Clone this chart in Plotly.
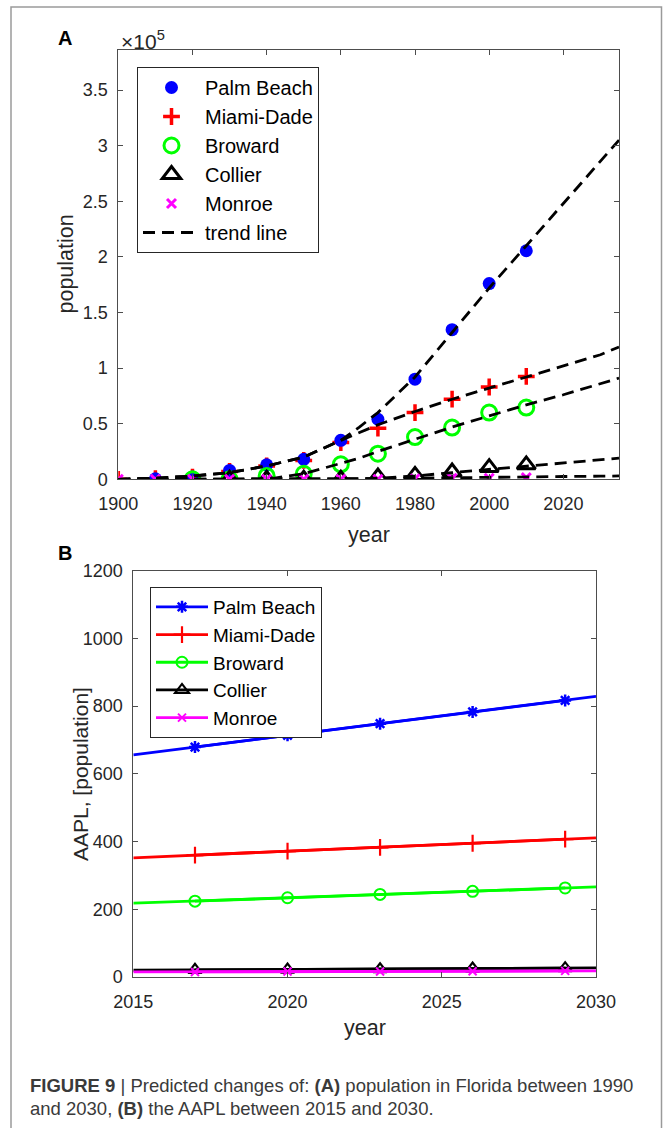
import plotly.graph_objects as go

W, H = 664, 1128
ML, MR, MT, MB = 44, 22, 28, 12   # explicit margins

# ---------------- Panel A data (population, x10^5) ----------------
years_a = [1900, 1910, 1920, 1930, 1940, 1950, 1960, 1970, 1980, 1990, 2000, 2010]
palm_beach_a = [None, 0.005, 0.02, 0.08, 0.13, 0.18, 0.35, 0.54, 0.90, 1.345, 1.76, 2.055]
miami_dade_a = [0.0, 0.005, 0.02, 0.07, 0.12, 0.17, 0.33, 0.46, 0.60, 0.72, 0.83, 0.925]
broward_a = [None, None, 0.0, 0.0, 0.03, 0.05, 0.135, 0.23, 0.38, 0.465, 0.60, 0.645]
collier_a = [None, None, None, 0.0, 0.0, 0.0, 0.0, 0.02, 0.035, 0.065, 0.105, 0.13]
monroe_a = [0.0, 0.0, 0.0, 0.0, 0.0, 0.0, 0.0, 0.0, 0.005, 0.01, 0.01, 0.015]

trend_years = [1900, 1910, 1920, 1930, 1940, 1950, 1960, 1965, 1970, 1980, 1990, 2000, 2010, 2020, 2030, 2035]
trend_palm_beach = [0.0, 0.01, 0.03, 0.06, 0.12, 0.20, 0.35, 0.47, 0.60, 0.92, 1.32, 1.72, 2.10, 2.48, 2.86, 3.05]
trend_miami_dade = [0.0, 0.01, 0.03, 0.06, 0.12, 0.20, 0.35, 0.42, 0.49, 0.61, 0.72, 0.82, 0.92, 1.02, 1.12, 1.19]
trend_broward = [0.0, 0.0, 0.0, 0.0, 0.0, 0.05, 0.14, 0.19, 0.25, 0.36, 0.47, 0.57, 0.67, 0.76, 0.86, 0.91]
trend_collier = [0.0, 0.0, 0.0, 0.0, 0.0, 0.0, 0.0, 0.005, 0.01, 0.03, 0.06, 0.09, 0.12, 0.15, 0.175, 0.19]
trend_monroe = [0.0, 0.0, 0.0, 0.0, 0.0, 0.0, 0.0, 0.0, 0.005, 0.01, 0.015, 0.02, 0.022, 0.025, 0.028, 0.03]

# ---------------- Panel B data (AAPL) ----------------
years_b_line = [2015, 2030]
years_b_mark = [2017, 2020, 2023, 2026, 2029]
palm_beach_b_line = [656, 829]
palm_beach_b = [679, 714, 748, 783, 817]
miami_dade_b_line = [352, 411]
miami_dade_b = [360, 372, 383, 395, 407]
broward_b_line = [218, 266]
broward_b = [224, 234, 244, 253, 263]
collier_b_line = [20, 27]
collier_b = [21, 22, 23, 25, 26]
monroe_b_line = [15, 18]
monroe_b = [15, 16, 16, 17, 18]

names = ["Palm Beach", "Miami-Dade", "Broward", "Collier", "Monroe"]
colors = ["#0000FF", "#FF0000", "#00FF00", "#000000", "#FF00FF"]

FONT = "Liberation Sans, Arial, Helvetica, sans-serif"
TXT = "#262626"


def px_x(p):
    return (p - ML) / (W - ML - MR)


def px_y(p):
    return 1 - (p - MT) / (H - MT - MB)


fig = go.Figure()

# ---- Panel A markers (Miami-Dade drawn under Palm Beach)
a_series = [palm_beach_a, miami_dade_a, broward_a, collier_a, monroe_a]
a_marker = [
    dict(symbol="circle", size=13, color=colors[0]),
    dict(symbol="cross-thin-open", size=12, color=colors[1], line=dict(width=3.5, color=colors[1])),
    dict(symbol="circle-open", size=15, color=colors[2], line=dict(width=3, color=colors[2])),
    dict(symbol="triangle-up-open", size=16, color=colors[3], line=dict(width=3, color=colors[3])),
    dict(symbol="x-thin-open", size=9, color=colors[4], line=dict(width=3, color=colors[4])),
]
draw_order = [1, 0, 2, 3, 4]
for i in draw_order:
    fig.add_trace(go.Scatter(
        x=years_a, y=a_series[i], mode="markers", name=names[i],
        marker=a_marker[i], legend="legend", legendrank=i + 1,
        legendgroup="a%d" % i, xaxis="x", yaxis="y",
    ))

trends = [trend_palm_beach, trend_miami_dade, trend_broward, trend_collier, trend_monroe]
for k, tr in enumerate(trends):
    fig.add_trace(go.Scatter(
        x=trend_years, y=tr, mode="lines", name="trend line",
        line=dict(color="black", width=2.8, dash="12px,7px"),
        showlegend=(k == 0), legend="legend", legendrank=10,
        legendgroup="trend", xaxis="x", yaxis="y",
    ))

# ---- Panel B
b_lines = [palm_beach_b_line, miami_dade_b_line, broward_b_line, collier_b_line, monroe_b_line]
b_marks = [palm_beach_b, miami_dade_b, broward_b, collier_b, monroe_b]
b_marker = [
    dict(symbol="asterisk-open", size=10, color=colors[0], line=dict(width=2.5, color=colors[0])),
    dict(symbol="cross-thin-open", size=12, color=colors[1], line=dict(width=2.2, color=colors[1])),
    dict(symbol="circle-open", size=11, color=colors[2], line=dict(width=2, color=colors[2])),
    dict(symbol="triangle-up-open", size=12, color=colors[3], line=dict(width=2.2, color=colors[3])),
    dict(symbol="x-thin-open", size=8, color=colors[4], line=dict(width=2, color=colors[4])),
]
for i in range(5):
    fig.add_trace(go.Scatter(
        x=years_b_line, y=b_lines[i], mode="lines", showlegend=False,
        line=dict(color=colors[i], width=2.8), xaxis="x2", yaxis="y2", hoverinfo="skip",
    ))
    fig.add_trace(go.Scatter(
        x=years_b_mark, y=b_marks[i], mode="lines+markers", name=names[i],
        line=dict(color=colors[i], width=2.8), marker=b_marker[i],
        legend="legend2", legendgroup="b%d" % i, xaxis="x2", yaxis="y2",
    ))

axis_common = dict(
    showline=True, linecolor="#4d4d4d", linewidth=1, mirror="ticks",
    ticks="inside", ticklen=5, tickwidth=1, tickcolor="#4d4d4d",
    showgrid=False, zeroline=False, automargin=False,
    tickfont=dict(family=FONT, size=18, color=TXT),
)

fig.update_layout(
    width=W, height=H, autosize=False,
    margin=dict(l=ML, r=MR, t=MT, b=MB, pad=0, autoexpand=False),
    paper_bgcolor="white", plot_bgcolor="white",
    xaxis=dict(domain=[px_x(118.3), px_x(619)], range=[1900, 2035], anchor="y",
               tickmode="array", tickvals=[1900, 1920, 1940, 1960, 1980, 2000, 2020],
               ticklabelstandoff=8, **axis_common),
    yaxis=dict(domain=[px_y(479.3), px_y(50)], range=[0, 3.86], anchor="x",
               tickmode="array", tickvals=[0, 0.5, 1, 1.5, 2, 2.5, 3, 3.5],
               ticktext=["0", "0.5", "1", "1.5", "2", "2.5", "3", "3.5"],
               ticklabelstandoff=6, **axis_common),
    xaxis2=dict(domain=[px_x(133.3), px_x(596)], range=[2015, 2030], anchor="y2",
                tickmode="array", tickvals=[2015, 2020, 2025, 2030],
                ticklabelstandoff=8, **axis_common),
    yaxis2=dict(domain=[px_y(977), px_y(570.7)], range=[0, 1200], anchor="x2",
                tickmode="array", tickvals=[0, 200, 400, 600, 800, 1000, 1200],
                ticklabelstandoff=6, **axis_common),
    legend=dict(x=px_x(137), y=px_y(67), xanchor="left", yanchor="top",
                bordercolor="#262626", borderwidth=1, bgcolor="white",
                font=dict(family=FONT, size=20, color="black"),
                traceorder="grouped", tracegroupgap=0, itemwidth=57),
    legend2=dict(x=px_x(150), y=px_y(587), xanchor="left", yanchor="top",
                 bordercolor="#262626", borderwidth=1, bgcolor="white",
                 font=dict(family=FONT, size=19, color="black"),
                 traceorder="grouped", tracegroupgap=0, itemwidth=52),
    showlegend=True,
)


def note(text, x, y, size, color=TXT, angle=0, xanchor="center"):
    return dict(text=text, x=px_x(x), y=px_y(y), xref="paper", yref="paper",
                xanchor=xanchor, yanchor="middle", textangle=angle, showarrow=False,
                font=dict(family=FONT, size=size, color=color))


ann = [
    note("<b>A</b>", 65, 38, 20, "black"),
    note("<b>B</b>", 65, 553, 20, "black"),
    note("\u00d710<sup>5</sup>", 119, 40, 21, TXT, xanchor="left"),
    note("population", 65, 264.5, 21.5, angle=-90),
    note("year", 368.5, 535, 21.5),
    note("AAPL, [population]", 80, 774, 21, angle=-90),
    note("year", 364.5, 1028, 21.5),
    note("<b>FIGURE 9</b> | Predicted changes of: <b>(A)</b> population in Florida between 1990",
         28, 1085, 18.5, "#3a3a3a", xanchor="left"),
    note("and 2030, <b>(B)</b> the AAPL between 2015 and 2030.",
         28, 1108, 18.5, "#3a3a3a", xanchor="left"),
]
fig.update_layout(annotations=ann)

fig.add_shape(type="rect", xref="paper", yref="paper",
              x0=px_x(11), x1=px_x(661.5), y0=px_y(1140), y1=px_y(7),
              line=dict(color="#9a9a9a", width=1.5), fillcolor="rgba(0,0,0,0)", layer="below")

fig.write_html("out.html", config={"displayModeBar": False},
               post_script="document.body.style.margin='0px';")
